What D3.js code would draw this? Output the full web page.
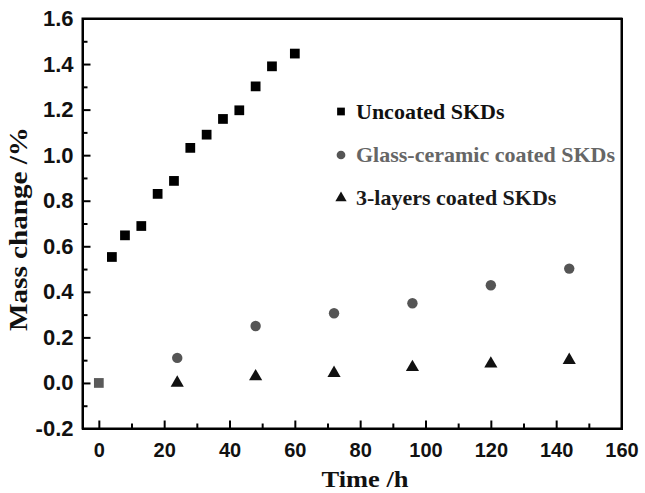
<!DOCTYPE html>
<html>
<head>
<meta charset="utf-8">
<script src="https://cdn.jsdelivr.net/npm/d3@7"></script>
<style>
  body { margin: 0; background: #fff; }
  #chart { position: relative; width: 645px; height: 493px; }
  svg { display: block; position: absolute; left: 0; top: 0; }
  .frame { position: absolute; box-sizing: border-box; border: 2px solid #000; pointer-events: none; }
</style>
</head>
<body>
<div id="chart"></div>
<script>
const width = 645;
const height = 493;

// data
const uncoatedTime = [4, 8, 13, 18, 23, 28, 33, 38, 43, 48, 53, 60];
const uncoatedMass = [0.553, 0.648, 0.689, 0.830, 0.887, 1.032, 1.090, 1.159, 1.197, 1.302, 1.390, 1.446];
const glassTime = [24, 48, 72, 96, 120, 144];
const glassMass = [0.110, 0.250, 0.306, 0.350, 0.429, 0.502];
const layersTime = [24, 48, 72, 96, 120, 144];
const layersMass = [0.0, 0.028, 0.043, 0.069, 0.084, 0.10];
const startTime = [0];
const startMass = [0.0];

const xMajor = [0, 20, 40, 60, 80, 100, 120, 140, 160];
const xMinor = [10, 30, 50, 70, 90, 110, 130, 150];
const yMajor = [-0.2, 0, 0.2, 0.4, 0.6, 0.8, 1.0, 1.2, 1.4, 1.6];
const yMinor = [-0.1, 0.1, 0.3, 0.5, 0.7, 0.9, 1.1, 1.3, 1.5];

const legendNames = ['Uncoated SKDs', 'Glass-ceramic coated SKDs', '3-layers coated SKDs'];

var xScale = d3.scaleLinear().domain([-5, 160]).range([82.5, 621.5]);
var yScale = d3.scaleLinear().domain([-0.2, 1.6]).range([428.5, 18.5]);

const [x0, x1] = xScale.range();
const [y0, y1] = yScale.range();

var svg = d3.select('#chart').append('svg')
    .attr('width', width)
    .attr('height', height);

// frame in svg
svg.append('rect')
    .attr('class', 'plot-frame')
    .attr('x', x0).attr('y', y1)
    .attr('width', x1 - x0).attr('height', y0 - y1)
    .style('fill', 'none')
    .style('stroke', '#000')
    .style('stroke-width', '2px');

// x axis (ticks point inward)
svg.append('g')
    .attr('transform', 'translate(0,' + y0 + ')')
    .call(d3.axisBottom(xScale).tickValues(xMinor).tickSizeInner(-5).tickSizeOuter(0).tickFormat(''));
svg.append('g')
    .attr('class', 'xmajor')
    .attr('transform', 'translate(0,' + y0 + ')')
    .call(d3.axisBottom(xScale).tickValues(xMajor).tickSizeInner(-8).tickSizeOuter(0).tickPadding(14)
        .tickFormat(d3.format('d')));

// y axis
svg.append('g')
    .attr('transform', 'translate(' + x0 + ',0)')
    .call(d3.axisLeft(yScale).tickValues(yMinor).tickSizeInner(-5).tickSizeOuter(0).tickFormat(''));
svg.append('g')
    .attr('class', 'ymajor')
    .attr('transform', 'translate(' + x0 + ',0)')
    .call(d3.axisLeft(yScale).tickValues(yMajor).tickSizeInner(-8).tickSizeOuter(0).tickPadding(9)
        .tickFormat(d => d.toFixed(1)));

svg.selectAll('.domain').remove();
svg.selectAll('.tick line').attr('stroke', '#000').attr('stroke-width', 2);
svg.selectAll('.tick text')
    .attr('fill', '#111')
    .style('font-family', '"Liberation Sans", Arial, sans-serif')
    .style('font-weight', 'bold')
    .style('font-size', '20px');
svg.selectAll('.ymajor .tick text').style('font-size', '22px');

// axis titles
svg.append('text')
    .attr('x', 365).attr('y', 487)
    .attr('text-anchor', 'middle')
    .attr('textLength', 87).attr('lengthAdjust', 'spacingAndGlyphs')
    .style('font-family', '"Liberation Serif", "Times New Roman", serif')
    .style('font-weight', 'bold').style('font-size', '23px')
    .attr('fill', '#111')
    .text('Time /h');

svg.append('text')
    .attr('transform', 'translate(27,229) rotate(-90)')
    .attr('text-anchor', 'middle')
    .attr('textLength', 204).attr('lengthAdjust', 'spacingAndGlyphs')
    .style('font-family', '"Liberation Serif", "Times New Roman", serif')
    .style('font-weight', 'bold').style('font-size', '25px')
    .attr('fill', '#111')
    .text('Mass change /%');

// points
var square = d3.symbol().type(d3.symbolSquare).size(95);
var circle = d3.symbol().type(d3.symbolCircle).size(85);
var triangle = d3.symbol().type(d3.symbolTriangle).size(75);

svg.append('g').selectAll('path')
    .data(d3.zip(uncoatedTime, uncoatedMass))
    .enter().append('path')
    .attr('d', square)
    .attr('transform', d => 'translate(' + xScale(d[0]) + ',' + yScale(d[1]) + ')')
    .attr('fill', '#000');

svg.append('g').selectAll('path')
    .data(d3.zip(startTime, startMass))
    .enter().append('path')
    .attr('d', square)
    .attr('transform', d => 'translate(' + xScale(d[0]) + ',' + yScale(d[1]) + ')')
    .attr('fill', '#5a5a5a');

svg.append('g').selectAll('path')
    .data(d3.zip(glassTime, glassMass))
    .enter().append('path')
    .attr('d', circle)
    .attr('transform', d => 'translate(' + xScale(d[0]) + ',' + yScale(d[1]) + ')')
    .attr('fill', '#555');

svg.append('g').selectAll('path')
    .data(d3.zip(layersTime, layersMass))
    .enter().append('path')
    .attr('d', triangle)
    .attr('transform', d => 'translate(' + xScale(d[0]) + ',' + yScale(d[1]) + ')')
    .attr('fill', '#111');

// legend
var legendSymbols = [
    d3.symbol().type(d3.symbolSquare).size(60),
    d3.symbol().type(d3.symbolCircle).size(60),
    d3.symbol().type(d3.symbolTriangle).size(55)
];
var legendColors = ['#000', '#555', '#111'];
var legendText = ['#111', '#666', '#1a1a1a'];
var legendY = [111.5, 155, 198];

var legend = svg.append('g');
legendNames.forEach(function(name, i) {
    legend.append('path')
        .attr('d', legendSymbols[i])
        .attr('transform', 'translate(341,' + legendY[i] + ')')
        .attr('fill', legendColors[i]);
    legend.append('text')
        .attr('x', 356).attr('y', legendY[i] + 7)
        .style('font-family', '"Liberation Serif", "Times New Roman", serif')
        .style('font-weight', 'bold').style('font-size', '22px')
        .attr('fill', legendText[i])
        .text(name);
});

// html frame laid over the plot area as a fallback
d3.select('#chart').append('div')
    .attr('class', 'frame')
    .style('left', (x0 - 1) + 'px')
    .style('top', (y1 - 1) + 'px')
    .style('width', (x1 - x0 + 2) + 'px')
    .style('height', (y0 - y1 + 2) + 'px');
</script>
</body>
</html>
